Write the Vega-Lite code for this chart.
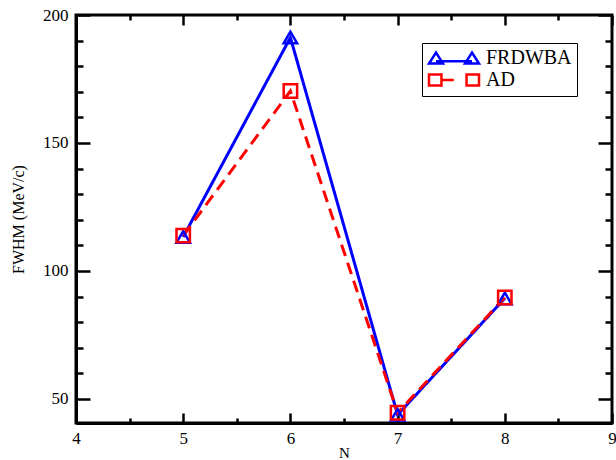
{
  "$schema": "https://vega.github.io/schema/vega-lite/v6.json",
  "width": 536,
  "height": 408,
  "autosize": {"type": "none"},
  "padding": {"left": 76, "top": 15, "right": 4, "bottom": 37},
  "config": {
    "font": "Liberation Serif",
    "view": {"stroke": "black", "strokeWidth": 3},
    "axis": {
      "domainColor": "black",
      "domainWidth": 3,
      "ticks": false,
      "grid": true,
      "gridColor": "black",
      "gridWidth": 2.5,
      "gridOpacity": 1,
      "labelColor": "black",
      "labelFontSize": 17,
      "titleColor": "black",
      "titleFontWeight": "normal",
      "titleFontSize": 16,
      "labelFont": "Liberation Serif",
      "titleFont": "Liberation Serif"
    }
  },
  "data": {
    "values": [
      {"N": 5, "FWHM": 113.3, "series": "FRDWBA"},
      {"N": 6, "FWHM": 191.2, "series": "FRDWBA"},
      {"N": 7, "FWHM": 43.8, "series": "FRDWBA"},
      {"N": 8, "FWHM": 89.3, "series": "FRDWBA"},
      {"N": 5, "FWHM": 113.8, "series": "AD"},
      {"N": 6, "FWHM": 170.3, "series": "AD"},
      {"N": 7, "FWHM": 44.6, "series": "AD"},
      {"N": 8, "FWHM": 89.6, "series": "AD"}
    ]
  },
  "layer": [
    {
      "mark": {"type": "line", "strokeWidth": 3},
      "encoding": {
        "x": {"field": "N", "type": "quantitative", "scale": {"domain": [4, 9], "nice": false},
          "axis": {"orient": "bottom", "title": "N", "values": [4, 4.5, 5, 5.5, 6, 6.5, 7, 7.5, 8, 8.5, 9],
            "labelExpr": "datum.value % 1 === 0 ? format(datum.value, 'd') : ''",
            "gridDash": {"condition": {"test": "datum.value % 1 !== 0", "value": [5, 398, 5, 1000]}, "value": [10, 388, 10, 1000]},
            "labelPadding": 7, "titlePadding": -1, "titleFontSize": 15, "labelFlush": false}},
        "y": {"field": "FWHM", "type": "quantitative", "scale": {"domain": [40.6, 200], "nice": false, "zero": false},
          "axis": {"orient": "left", "title": "FWHM (MeV/c)", "values": [50, 60, 70, 80, 90, 100, 110, 120, 130, 140, 150, 160, 170, 180, 190, 200],
            "labelExpr": "datum.value % 50 === 0 ? format(datum.value, 'd') : ''",
            "gridDash": {"condition": {"test": "datum.value % 50 !== 0", "value": [7, 522, 7, 1000]}, "value": [14, 508, 14, 1000]},
            "labelPadding": 8, "titlePadding": 16, "labelFlush": false}},
        "color": {"field": "series", "type": "nominal", "sort": ["FRDWBA", "AD"], "scale": {"domain": ["FRDWBA", "AD"], "range": ["#0000ff", "#ff0000"]}, "legend": null},
        "strokeDash": {"field": "series", "type": "nominal", "sort": ["FRDWBA", "AD"], "scale": {"domain": ["FRDWBA", "AD"], "range": [[1, 0], [12, 7]]}, "legend": null}
      }
    },
    {
      "mark": {"type": "point", "filled": false, "strokeWidth": 2.5, "size": 180, "opacity": 1},
      "encoding": {
        "x": {"field": "N", "type": "quantitative", "scale": {"domain": [4, 9], "nice": false}, "axis": null},
        "y": {"field": "FWHM", "type": "quantitative", "scale": {"domain": [40.6, 200], "nice": false, "zero": false}, "axis": null},
        "color": {"field": "series", "type": "nominal", "sort": ["FRDWBA", "AD"], "scale": {"domain": ["FRDWBA", "AD"], "range": ["#0000ff", "#ff0000"]}, "legend": null},
        "shape": {"field": "series", "type": "nominal", "sort": ["FRDWBA", "AD"], "scale": {"domain": ["FRDWBA", "AD"], "range": ["triangle-up", "square"]}, "legend": null}
      }
    },
    {
      "mark": {"type": "point", "filled": false, "opacity": 0, "strokeWidth": 2.5, "size": 256},
      "encoding": {
        "x": {"field": "N", "type": "quantitative", "scale": {"domain": [4, 9], "nice": false}, "axis": null},
        "y": {"field": "FWHM", "type": "quantitative", "scale": {"domain": [40.6, 200], "nice": false, "zero": false}, "axis": null},
        "color": {"field": "series", "type": "nominal", "sort": ["FRDWBA", "AD"], "scale": {"domain": ["FRDWBA", "AD"], "range": ["#0000ff", "#ff0000"]},
          "legend": {"orient": "none", "legendX": 346, "legendY": 28, "title": null, "strokeColor": "black", "fillColor": "white", "padding": 5, "rowPadding": 0, "labelFontSize": 20, "labelColor": "black", "labelOffset": 39, "symbolStrokeWidth": 2.5, "symbolSize": 256, "symbolOpacity": 1}},
        "shape": {"field": "series", "type": "nominal", "sort": ["FRDWBA", "AD"],
          "scale": {"domain": ["FRDWBA", "AD"], "range": ["M-1,0.69L0.75,0.69L-0.125,-0.69ZM3.5,0.69L5.25,0.69L4.375,-0.69ZM-0.125,0.4L4.375,0.4", "M-1,-0.69H0.56V0.69H-1ZM3.69,-0.69H5.25V0.69H3.69ZM0.56,0H2.1"]},
          "legend": {"orient": "none", "legendX": 346, "legendY": 28, "title": null, "strokeColor": "black", "fillColor": "white", "padding": 5, "rowPadding": 0, "labelFontSize": 20, "labelColor": "black", "labelOffset": 39, "symbolStrokeWidth": 2.5, "symbolSize": 256, "symbolOpacity": 1}}
      }
    }
  ],
  "resolve": {
    "scale": {"x": "independent", "y": "independent", "color": "independent", "shape": "independent"},
    "axis": {"x": "independent", "y": "independent"}
  }
}
